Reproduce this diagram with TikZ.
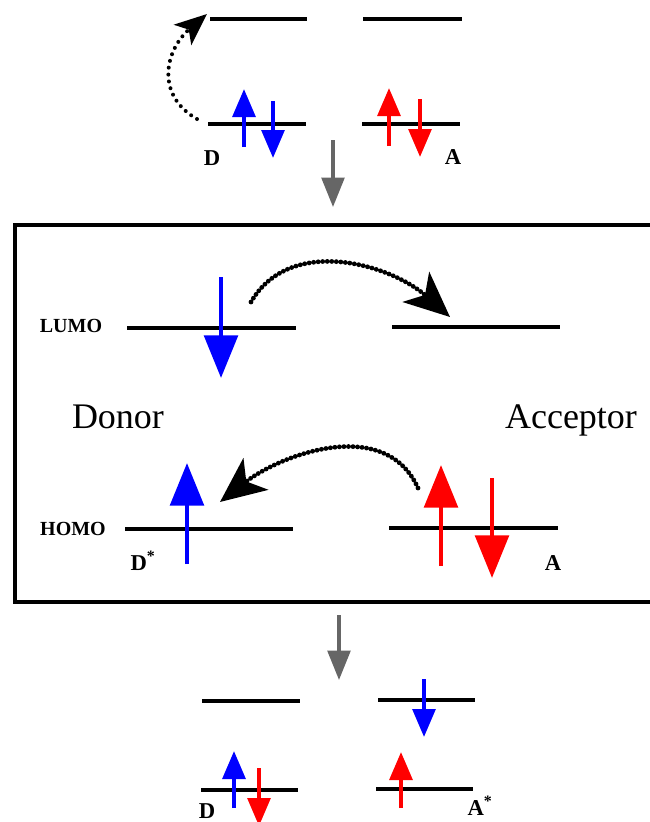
\documentclass[tikz,border=0pt]{standalone}
\usepackage{fontspec}
\setmainfont{Liberation Serif}
\usetikzlibrary{arrows.meta}
\definecolor{flowgray}{HTML}{666666}
\begin{document}
\begin{tikzpicture}[x=0.75pt,y=-0.75pt,
  level/.style={line width=2.6pt},
  biglevel/.style={line width=3.6pt},
  spin/.style={line width=3pt,-{Triangle[length=21pt,width=17pt]}},
  bigspin/.style={line width=3.6pt,-{Triangle[length=32pt,width=25pt]}},
  flow/.style={line width=2.6pt,draw=flowgray,-{Triangle[length=22pt,width=17pt,fill=flowgray]}},
  hop/.style={line width=3.6pt,line cap=round,dash pattern=on 0pt off 3.4pt,-{Stealth[length=34pt,width=30pt,inset=9pt]}},
  smallhop/.style={line width=3pt,line cap=round,dash pattern=on 0pt off 5.2pt,-{Stealth[length=24pt,width=20pt,inset=6pt]}},
  lbl/.style={font=\fontsize{17}{17}\selectfont\bfseries,inner sep=0pt,anchor=base},
  orb/.style={font=\fontsize{15}{15}\selectfont\bfseries,inner sep=0pt,anchor=base},
  big/.style={font=\fontsize{27}{27}\selectfont,inner sep=0pt,anchor=base}]
\useasboundingbox (0,0) rectangle (650,822);
\clip (0,0) rectangle (650,822);

% ---------- top: ground state ----------
\draw[level] (210,19) -- (307,19);
\draw[level] (363,19) -- (462,19);
\draw[level] (208,124) -- (306,124);
\draw[level] (362,124) -- (460,124);
\draw[spin,blue] (244,147) -- (244,89);
\draw[spin,blue] (273,101) -- (273,158);
\draw[spin,red] (389,146) -- (389,88);
\draw[spin,red] (420,99) -- (420,157);
\node[lbl] (d1) at (212,165) {D};
\node[lbl] (a1) at (453,164) {A};
\coordinate (e1s) at (197,119);
\coordinate (e1e) at (207,14);
\draw[smallhop] (e1s) .. controls (155,95) and (165,50) .. (e1e);

\coordinate (g1s) at (333,140);
\coordinate (g1e) at (333,207);
\draw[flow] (g1s) -- (g1e);

% ---------- box ----------
\draw[line width=2.6pt] (700,225) -- (15,225) -- (15,602) -- (700,602);

\node[orb] (lumo) at (71,332) {LUMO};
\draw[biglevel] (127,328) -- (296,328);
\draw[biglevel] (392,327) -- (560,327);
\draw[bigspin,blue] (221,277) -- (221,378);
\coordinate (h1s) at (251,302);
\coordinate (h1e) at (450,317);
\draw[hop] (h1s) .. controls (290,235) and (390,264) .. (h1e);

\node[big] (donor) at (118,428) {Donor};
\node[big] (acc) at (571,428) {Acceptor};

\node[orb] (homo) at (73,535) {HOMO};
\draw[biglevel] (125,529) -- (293,529);
\draw[biglevel] (389,528) -- (558,528);
\draw[bigspin,blue] (187,564) -- (187,463);
\draw[bigspin,red] (441,566) -- (441,465);
\draw[bigspin,red] (492,478) -- (492,578);
\node[lbl] (dstar) at (143,570) {D\textsuperscript{*}};
\node[lbl] (a2) at (553,570) {A};
\coordinate (h2s) at (418,488);
\coordinate (h2e) at (220,502);
\draw[hop] (h2s) .. controls (385,415) and (280,455) .. (h2e);

% ---------- bottom ----------
\coordinate (g2s) at (339,615);
\coordinate (g2e) at (339,680);
\draw[flow] (g2s) -- (g2e);

\draw[level] (202,701) -- (300,701);
\draw[level] (378,700) -- (475,700);
\draw[spin,blue] (424,679) -- (424,737);
\draw[level] (201,790) -- (298,790);
\draw[level] (376,789) -- (473,789);
\draw[spin,blue] (234,808) -- (234,751);
\draw[spin,red] (259,768) -- (259,826);
\draw[spin,red] (401,808) -- (401,752);
\node[lbl] (d3) at (207,818) {D};
\node[lbl] (astar) at (480,815) {A\textsuperscript{*}};
\end{tikzpicture}
\end{document}
